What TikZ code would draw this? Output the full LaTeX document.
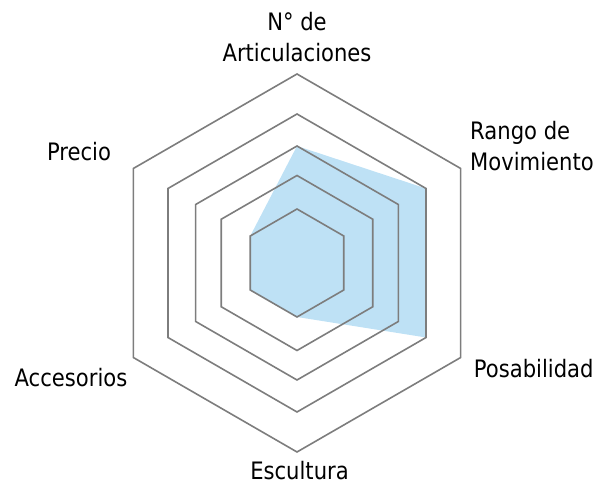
\documentclass[tikz,border=0pt]{standalone}
\usepackage{fontspec}
\setmainfont[FakeStretch=0.88]{DejaVu Sans}
\definecolor{fillblue}{RGB}{190,225,245}
\definecolor{gridgray}{RGB}{125,125,125}
\begin{document}
\begin{tikzpicture}[x=1pt, y=1pt]
\useasboundingbox (0,0) rectangle (607,489);
\begin{scope}[shift={(297,226)}]
	\fill[fillblue] (90:117) -- (30:149) -- (-30:149) -- (-90:54) -- (-150:54) -- (150:54) -- cycle;
	\foreach \r in {54,87.5,117,149,189}{
		\draw[line width=1.6pt, gridgray, line join=miter] (90:\r) -- (30:\r) -- (-30:\r) -- (-90:\r) -- (-150:\r) -- (150:\r) -- cycle;
	}
\end{scope}
\foreach \coord/\txt/\anch/\al [count=\i] in {
	{297,427}/{N° de\\Articulaciones}/base/center,
	{470,318}/{Rango de\\Movimiento}/base west/left,
	{533.7,111.7}/{Posabilidad}/base/center,
	{299.5,9.7}/{Escultura}/base/center,
	{71,102.3}/{Accesorios}/base/center,
	{79,328.3}/{Precio}/base/center
}{
	\node[font=\fontsize{24}{31}\selectfont, align/.expand once=\al, anchor=\anch, inner sep=0pt] (lbl\i) at (\coord) {\txt};
}
\end{tikzpicture}
\end{document}
